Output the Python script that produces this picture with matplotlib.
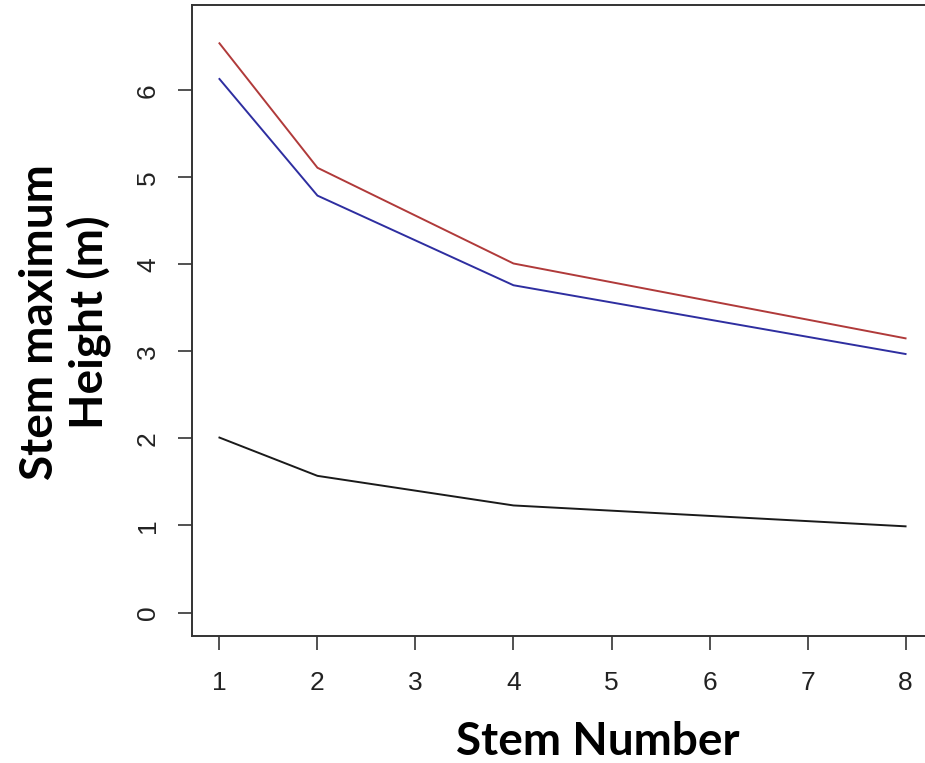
import matplotlib
matplotlib.use("Agg")
import matplotlib.pyplot as plt

# stem number (x) and maximum height per series (m)
stem_number = [1, 2, 4, 8]
height_red = [6.54, 5.11, 4.01, 3.15]
height_blue = [6.13, 4.79, 3.76, 2.97]
height_black = [2.01, 1.57, 1.23, 0.99]

x_ticks = [1, 2, 3, 4, 5, 6, 7, 8]
y_ticks = [0, 1, 2, 3, 4, 5, 6]

fig = plt.figure(figsize=(9.25, 7.63), dpi=100)
ax = fig.add_axes([192/925, 1 - 636/763, (933 - 192)/925, (636 - 5)/763])

ax.plot(stem_number, height_red, color="#b03a3a", lw=1.4)
ax.plot(stem_number, height_blue, color="#2e2ea0", lw=1.4)
ax.plot(stem_number, height_black, color="#1a1a1a", lw=1.4)

ax.set_xlim(0.72, 8.28)
ax.set_ylim(-0.27, 6.98)
ax.set_xticks(x_ticks)
ax.set_yticks(y_ticks)

tickfont = {"family": "Liberation Sans", "size": 19, "color": "#222222"}
ax.set_xticklabels([str(v) for v in x_ticks], fontdict=tickfont)
ax.set_yticklabels([str(v) for v in y_ticks], fontdict=tickfont, rotation=90, va="center")
ax.tick_params(direction="out", length=10, width=1.2, color="#333333")
ax.tick_params(axis="x", pad=15)
ax.tick_params(axis="y", pad=13)
for s in ax.spines.values():
    s.set_linewidth(1.4)
    s.set_color("#333333")

labelfont = {"family": "Lato", "weight": "bold", "size": 33, "color": "black"}
fig.text(598/925, 1 - 742/763, "Stem Number", fontdict=labelfont, ha="center", va="center")
fig.text(65/925, 1 - 322/763, "Stem maximum\nHeight (m)", fontdict=labelfont,
         ha="center", va="center", rotation=90, linespacing=1.15, multialignment="center")

fig.savefig("out.png", dpi=100)
